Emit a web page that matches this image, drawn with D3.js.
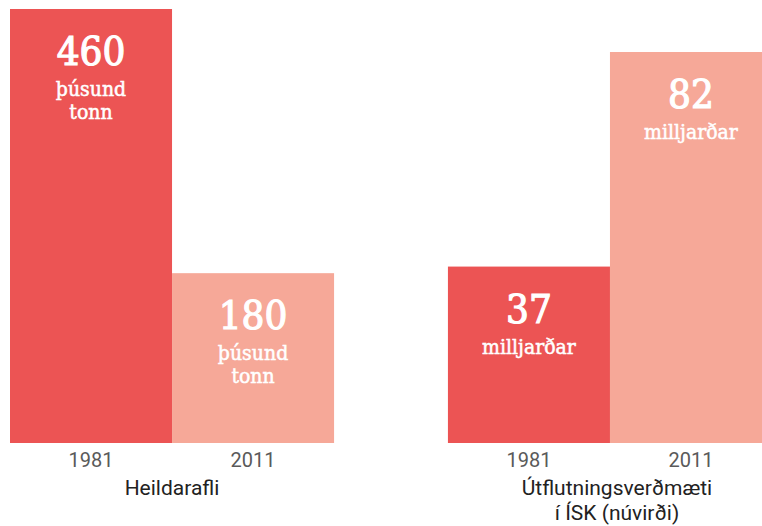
<!DOCTYPE html>
<html>
<head>
<meta charset="utf-8">
<script src="https://cdn.jsdelivr.net/npm/d3@7"></script>
<style>
  body { margin: 0; background: #fff; }
  svg { display: block; }
</style>
</head>
<body>
<div id="viz"></div>
<script>
/*** data ***/
const groups = ["Heildarafli", "Útflutningsverðmæti"];
const groupLabels = [["Heildarafli"], ["Útflutningsverðmæti", "í ÍSK (núvirði)"]];
const years = ["1981", "2011"];
const catchValues = [460, 180];      // þúsund tonn
const exportValues = [37, 82];       // milljarðar ISK
const units = [["þúsund", "tonn"], ["milljarðar"]];

/*** global variable/s ***/
const width = 762, height = 526;
const base = 443;
const colors = d3.scaleOrdinal().domain(years).range(["#ec5454", "#f6a898"]);

const series = [catchValues, exportValues];

const svg = d3.select("#viz")
  .append("svg")
  .attr("width", width)
  .attr("height", height);

const xGroup = d3.scaleBand()
  .domain(groups)
  .range([10, 772])
  .paddingInner(0.26);

const xYear = d3.scaleBand()
  .domain(years)
  .range([0, xGroup.bandwidth()]);

// each panel has its own value scale
const yScales = [
  d3.scaleLinear().domain([0, d3.max(catchValues)]).range([base, 9]),
  d3.scaleLinear().domain([0, d3.max(exportValues)]).range([base, 52])
];

groups.forEach((g, gi) => {
  const y = yScales[gi];
  const data = years.map((yr, i) => ({ year: yr, value: series[gi][i] }));

  const panel = svg.append("g")
    .attr("transform", `translate(${xGroup(g)},0)`);

  panel.selectAll("rect")
    .data(data)
    .join("rect")
    .attr("x", d => xYear(d.year))
    .attr("width", xYear.bandwidth())
    .attr("y", d => y(d.value))
    .attr("height", d => y(0) - y(d.value))
    .attr("fill", d => colors(d.year));

  // value labels inside the bars
  const lbl = panel.selectAll("text.val")
    .data(data)
    .join("text")
    .attr("class", "val")
    .attr("text-anchor", "middle")
    .attr("fill", "#fff")
    .attr("stroke", "#fff")
    .attr("font-family", "'DejaVu Serif Condensed', 'DejaVu Serif', serif");

  lbl.append("tspan")
    .attr("x", d => xYear(d.year) + xYear.bandwidth() / 2)
    .attr("y", d => y(d.value) + 56)
    .attr("font-size", 40)
    .attr("stroke-width", 1.2)
    .text(d => d.value);

  units[gi].forEach((u, ui) => {
    lbl.append("tspan")
      .attr("x", d => xYear(d.year) + xYear.bandwidth() / 2)
      .attr("y", d => y(d.value) + 56 + 31 + ui * 23)
      .attr("font-size", 21)
      .attr("stroke-width", 0.5)
      .text(u);
  });

  // year axis, no line
  const axis = panel.append("g")
    .attr("transform", `translate(0,${base})`)
    .call(d3.axisBottom(xYear).tickSize(0).tickPadding(10));
  axis.select(".domain").remove();
  axis.selectAll("text")
    .attr("font-family", "Roboto, sans-serif")
    .attr("font-size", 20)
    .attr("fill", "#5a5a5a");

  const gl = panel.append("text")
    .attr("text-anchor", "middle")
    .attr("font-family", "Roboto, sans-serif")
    .attr("font-size", 21)
    .attr("fill", "#222");
  groupLabels[gi].forEach((t, ti) => {
    gl.append("tspan")
      .attr("x", xGroup.bandwidth() / 2 + (gi === 1 ? 7 : 0))
      .attr("y", 495 + ti * 25)
      .text(t);
  });
});
</script>
</body>
</html>
